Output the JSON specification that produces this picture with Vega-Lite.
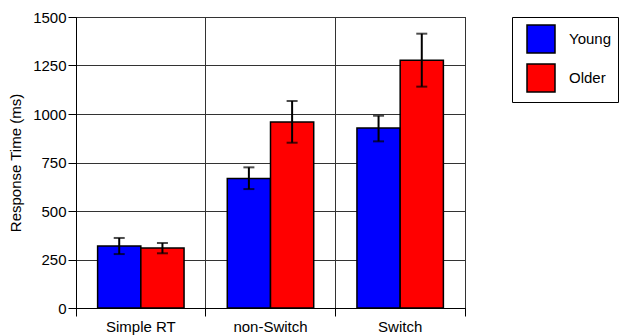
{
  "$schema": "https://vega.github.io/schema/vega-lite/v6.json",
  "autosize": "none",
  "padding": {"left": 76, "top": 17, "right": 159, "bottom": 27},
  "width": 389,
  "height": 291,
  "background": "white",
  "config": {
    "font": "Liberation Sans",
    "view": {"stroke": "black", "strokeWidth": 1},
    "axis": {"labelFont": "Liberation Sans", "titleFont": "Liberation Sans", "labelColor": "black", "titleColor": "black", "domainColor": "black", "tickColor": "black"}
  },
  "data": {
    "values": [
      {"cond": "Simple RT", "group": "Young", "rt": 320, "lo": 278, "hi": 361},
      {"cond": "Simple RT", "group": "Older", "rt": 309, "lo": 282, "hi": 335},
      {"cond": "non-Switch", "group": "Young", "rt": 668, "lo": 613, "hi": 725},
      {"cond": "non-Switch", "group": "Older", "rt": 959, "lo": 852, "hi": 1067},
      {"cond": "Switch", "group": "Young", "rt": 928, "lo": 859, "hi": 991},
      {"cond": "Switch", "group": "Older", "rt": 1277, "lo": 1141, "hi": 1414}
    ]
  },
  "encoding": {
    "x": {
      "field": "cond", "type": "nominal", "sort": ["Simple RT", "non-Switch", "Switch"],
      "scale": {"paddingInner": 0, "paddingOuter": 0},
      "axis": {
        "title": null, "labelAngle": 0, "labelFontSize": 15, "labelPadding": 3,
        "bandPosition": 1, "tickExtra": true,
        "tickSize": 8, "tickWidth": 1, "grid": true, "gridColor": "#333333", "gridWidth": 1, "gridOpacity": 1,
        "domainWidth": 1
      }
    },
    "xOffset": {"field": "group", "type": "nominal", "sort": ["Young", "Older"], "scale": {"paddingInner": 0, "paddingOuter": 0.5}}
  },
  "layer": [
    {
      "mark": {"type": "bar", "stroke": "black", "strokeWidth": 1.5},
      "encoding": {
        "y": {
          "field": "rt", "type": "quantitative",
          "scale": {"domain": [0, 1500], "nice": false},
          "axis": {
            "title": "Response Time (ms)", "titleFontSize": 15, "titleFontWeight": "normal", "titlePadding": 9,
            "values": [0, 125, 250, 375, 500, 625, 750, 875, 1000, 1125, 1250, 1375, 1500],
            "labelExpr": "datum.value % 250 === 0 ? datum.label : ''",
            "format": "d", "labelFontSize": 15, "labelPadding": 2, "labelOverlap": false, "labelFlush": false,
            "tickSize": {"condition": {"test": "datum.value % 250 === 0", "value": 8}, "value": 4},
            "grid": true, "gridColor": "#333333", "gridWidth": 1,
            "gridOpacity": {"condition": {"test": "datum.value % 250 === 0", "value": 1}, "value": 0}
          }
        },
        "color": {
          "field": "group", "type": "nominal",
          "scale": {"domain": ["Young", "Older"], "range": ["#0000ff", "#ff0000"]},
          "legend": {
            "title": null, "orient": "none", "legendX": 436, "legendY": 0,
            "symbolType": "square", "symbolSize": 784, "symbolStrokeColor": "black", "symbolStrokeWidth": 1.5,
            "symbolOffset": 7, "labelOffset": 13, "labelFontSize": 15, "labelColor": "black",
            "rowPadding": 5, "padding": 7, "strokeColor": "black", "fillColor": "white"
          }
        }
      }
    },
    {
      "mark": {"type": "rule", "color": "black", "strokeWidth": 2},
      "encoding": {
        "y": {"field": "lo", "type": "quantitative"},
        "y2": {"field": "hi"}
      }
    },
    {
      "mark": {"type": "tick", "color": "black", "thickness": 2, "size": 11},
      "encoding": {"y": {"field": "lo", "type": "quantitative"}}
    },
    {
      "mark": {"type": "tick", "color": "black", "thickness": 2, "size": 11},
      "encoding": {"y": {"field": "hi", "type": "quantitative"}}
    }
  ]
}
